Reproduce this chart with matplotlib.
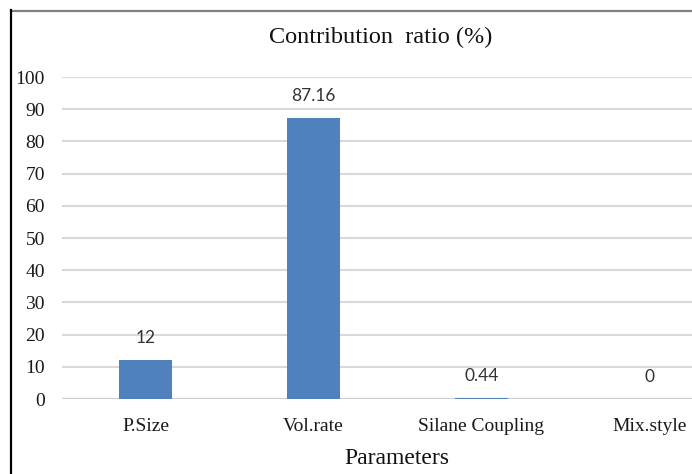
import matplotlib
matplotlib.use("Agg")
import matplotlib.pyplot as plt
from matplotlib.lines import Line2D

categories = ["P.Size", "Vol.rate", "Silane Coupling", "Mix.style"]
values = [12, 87.16, 0.44, 0]
value_labels = ["12", "87.16", "0.44", "0"]
y_ticks = [0, 10, 20, 30, 40, 50, 60, 70, 80, 90, 100]

W, H = 692, 474
fig = plt.figure(figsize=(W / 100, H / 100), dpi=100)

# plot area: category slots are 168 px wide, the last one runs past the right edge
ax_left, ax_right = 61.5, 733.5
ax_bottom, ax_top = 399, 77
ax = fig.add_axes([ax_left / W, 1 - ax_bottom / H,
                   (ax_right - ax_left) / W, (ax_bottom - ax_top) / H])

bar_color = "#4F81BD"
x = range(len(categories))
bars = ax.bar(x, values, width=0.31, color=bar_color, zorder=3)

ax.set_xlim(-0.5, len(categories) - 0.5)
ax.set_ylim(0, 100)
ax.set_yticks(y_ticks)
ax.set_yticklabels([str(t) for t in y_ticks], family="Liberation Serif",
                   fontsize=14, color="#1a1a1a")
ax.set_xticks(list(x))
ax.set_xticklabels(categories, family="Liberation Serif", fontsize=14,
                   color="#1a1a1a")
ax.tick_params(axis="both", length=0)
ax.tick_params(axis="y", pad=12)
ax.tick_params(axis="x", pad=14)

ax.grid(axis="y", color="#d9d9d9", linewidth=1.5, zorder=0)
for s in ax.spines.values():
    s.set_visible(False)
ax.axhline(0, color="#d0d0d0", linewidth=1.6, zorder=2)

for bar, lab in zip(bars, value_labels):
    ax.annotate(lab, (bar.get_x() + bar.get_width() / 2, bar.get_height()),
                xytext=(0, 10), textcoords="offset points", ha="center",
                va="bottom", family="Lato", fontsize=12.5, color="#333333")

fig.text(381 / W, 1 - 37 / H, "Contribution  ratio (%)", ha="center",
         va="center", family="Liberation Serif", fontsize=17.5, color="#111111")
fig.text(397 / W, 1 - 459 / H, "Parameters", ha="center", va="center",
         family="Liberation Serif", fontsize=17, color="#111111")

# outer frame: grey top edge, black left edge
fig.add_artist(Line2D([11 / W, 1], [1 - 10.5 / H, 1 - 10.5 / H],
                      transform=fig.transFigure, color="#808080", linewidth=1.6))
fig.add_artist(Line2D([11.5 / W, 11.5 / W], [0, 1 - 10 / H],
                      transform=fig.transFigure, color="black", linewidth=1.6))

fig.savefig("out.png", dpi=100)
